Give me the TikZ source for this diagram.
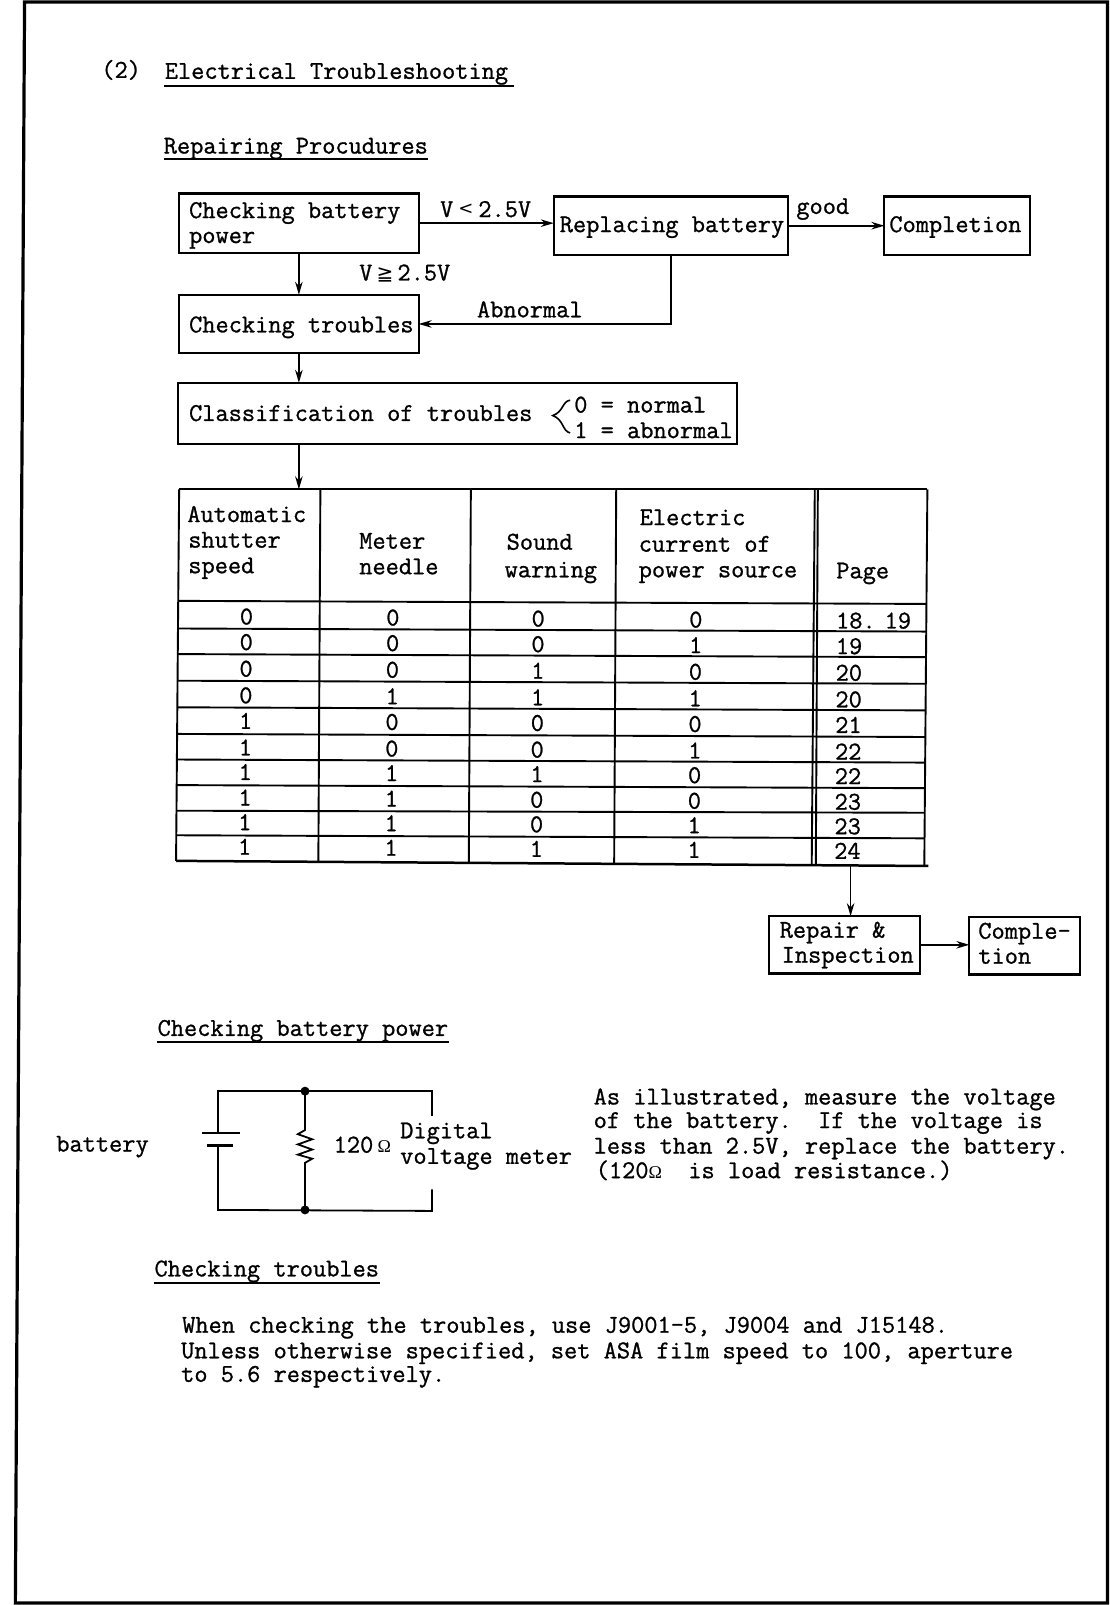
\documentclass[tikz,border=0pt]{standalone}
\usepackage{fontspec}
\setmonofont{Latin Modern Mono}[FakeBold=1.0]
\newfontfamily\symfont{DejaVu Sans}
\newfontfamily\serfont{Liberation Serif}
\usetikzlibrary{arrows.meta}
\newcommand{\ind}[1]{\hspace*{#1pt}}
\newcommand{\dn}[2]{\raisebox{#1pt}[0.7em][0.2em]{#2}}
\tikzset{
  x=1.024pt,y=-1.024pt,
  every node/.style={font=\ttfamily\fontsize{25.65}{25}\selectfont,inner sep=0pt,outer sep=0pt,text=black},
  txt/.style={anchor=base west},
  cell/.style={anchor=base},
  boxnode/.style={draw,line width=2.1pt,anchor=north west,align=flush left,minimum height=#1*1.024pt},
  conn/.style={line width=1.7pt,-{Stealth[length=13pt,width=7.5pt]}},
  wire/.style={line width=1.8pt},
  rule/.style={line width=2pt},
  tline/.style={line width=1.9pt},
}
\begin{document}
\begin{tikzpicture}
\useasboundingbox (0,0) rectangle (1084,1568);
\fill[white] (0,0) rectangle (1084,1568);
% page frame
\draw[line width=3.2pt] (15,1566) -- (24,2) -- (1082,2) -- (1082,1566) -- cycle;
% headings
\node[txt] (n2) at (99,76) {(2)};
\node[txt] (h1) at (161,77) {Electrical Troubleshooting};
\draw[rule,line width=2.6pt] (160,84) -- (502,84);
\node[txt] (h2) at (160,150) {Repairing Procudures};
\draw[rule] (160,155) -- (418,155);
% flow boxes
\node[boxnode=58,text width=239.6pt] (b1) at (175,189) {\ind{10}\dn{-1}{Checking battery}\\\ind{10}\dn{-1}{power}};
\node[boxnode=57,text width=234.5pt] (b2) at (541,192) {\ind{6}\dn{0}{Replacing battery}};
\node[boxnode=57,text width=145.4pt] (b3) at (864,192) {\ind{5}\dn{0}{Completion}};
\node[boxnode=57,text width=239.6pt] (b4) at (175,288) {\ind{10}\dn{-2}{Checking troubles}};
\node[boxnode=60,text width=559pt] (b5) at (174,374) {\ind{11}\dn{-1}{Classification of troubles}};
\node[txt] (n0) at (561,403) {0 = normal};
\node[txt] (n1) at (561,428) {1 = abnormal};
\draw[line width=1.6pt] (557,391) .. controls (549,392) and (551,402) .. (540,406) .. controls (551,410) and (549,421) .. (557,423);
\node[txt] (lv1) at (430,212) {V\makebox[25pt][c]{\raisebox{3pt}{\fontsize{18}{20}\selectfont\symfont<}}2.5V};
\node[txt] (lv2) at (351,274) {V\makebox[25pt][c]{\fontsize{20}{20}\selectfont\symfont≧}2.5V};
\node[txt] (lg) at (778,209) {good};
\node[txt] (lab) at (466,310) {Abnormal};
\draw[conn] (b1.east) -- (b1.east -| b2.west);
\draw[conn] (b2.east) -- (b3.west);
\draw[conn] (b1.south) -- (b4.north);
\draw[conn] (b2.south) |- (b4.east);
\draw[conn] (b4.south) -- (b4.south |- b5.north);
% table
\coordinate (ytop) at (0,478);
\coordinate (ttop) at (b4.south |- ytop);
\draw[conn] (b4.south |- b5.south) -- (ttop);
\draw[tline,line width=2.3pt] (175,478) -- (906,478);
\foreach \y/\yy in {587/590,614/617,639/642,665/668,691/694,717/720,742/745,767/770,792/794,816/819}
  \draw[tline] ({175-3*(\y-478)/365},\y) -- ({906-3*(\y-478)/365},\yy);
\draw[tline,line width=2.5pt] (172,841) -- (907,846);
\draw[tline] (175,478) -- (172,841);
\draw[tline] (313,478) -- (311,842);
\draw[tline] (460,478) -- (458,843);
\draw[tline] (602,478) -- (600,844);
\draw[tline] (796,478) -- (793,845);
\draw[tline] (799,478) -- (797,845);
\draw[tline] (906,478) -- (903,846);
% header
\node[txt] (t1) at (183,510) {Automatic};
\node[txt] (t2) at (184,535) {shutter};
\node[txt] (t3) at (184,560) {speed};
\node[txt] (t4) at (351,536) {Meter};
\node[txt] (t5) at (351,561) {needle};
\node[txt] (t6) at (495,537) {Sound};
\node[txt] (t7) at (493,564) {warning};
\node[txt] (t8) at (625,513) {Electric};
\node[txt] (t9) at (624,539) {current of};
\node[txt] (t10) at (624,564) {power source};
\node[txt] (t11) at (817,565) {Page};
% rows
\foreach \y/\a/\b/\c/\d/\p [count=\r] in {
 610/0/0/0/0/18.\hspace{9pt}19, 635/0/0/0/1/19, 661/0/0/1/0/20, 687/0/1/1/1/20, 712/1/0/0/0/21,
 738/1/0/0/1/22, 762/1/1/1/0/22, 787/1/1/0/0/23, 811/1/1/0/1/23, 835/1/1/1/1/24}{
  \node[cell] (ra\r) at ({241-0.2*\r},\y) {\a};
  \node[cell] (rb\r) at ({384-0.2*\r},\y+1) {\b};
  \node[cell] (rc\r) at ({526-0.2*\r},\y+2) {\c};
  \node[cell] (rd\r) at ({680-0.2*\r},\y+3) {\d};
  \node[txt] (rp\r) at ({817-0.2*\r},\y+4) {\p};
}
% after table
\coordinate (tbot) at (831,845);
\node[boxnode=56,text width=151.5pt] (rep) at (751,895) {\ind{11}\dn{1}{Repair \&}\\\ind{13}\dn{1}{Inspection}};
\node[boxnode=56,text width=110.6pt] (cmp) at (947,896) {\ind{9}\dn{1}{Comple-}\\\ind{9}\dn{1}{tion}};
\draw[conn] (tbot) -- (tbot |- rep.north);
\draw[conn] (rep.east) -- (rep.east -| cmp.west);
% battery section
\node[txt] (h3) at (154,1012) {Checking battery power};
\draw[rule] (153,1018) -- (439,1018);
\node[txt] (lb) at (55,1125) {battery};
\coordinate (TL) at (213,1066);
\coordinate (BL) at (213,1182);
\coordinate (TM) at (298,1066);
\coordinate (BM) at (298,1182);
\draw[wire] (213,1107) -- (TL) -- (422,1066) -- (422,1090);
\draw[wire] (213,1118) -- (BL) -- (422,1183) -- (422,1162);
\draw[wire] (197,1107) -- (234,1107);
\draw[line width=3.8pt] (202,1119) -- (228,1119);
\draw[wire] (TM) -- (298,1104) -- (291,1108) -- (305,1113) -- (291,1118) -- (305,1123) -- (291,1128) -- (305,1132) -- (298,1136) -- (BM);
\fill (TM) circle (4.5pt);
\fill (BM) circle (4.5pt);
\node[txt] (r1) at (326,1126) {120\,{\fontsize{18}{20}\selectfont\serfont Ω}};
\node[txt] (d1) at (391,1112) {Digital};
\node[txt] (d2) at (391,1137) {voltage meter};
\node[txt] (p1) at (580,1079) {As illustrated, measure the voltage};
\node[txt] (p2) at (580,1102) {of the battery.\ \ If the voltage is};
\node[txt] (p3) at (580,1127) {less than 2.5V, replace the battery.};
\node[txt] (p4) at (582,1151) {(120{\fontsize{18}{20}\selectfont\serfont Ω}\ \ is load resistance.)};
% troubles section
\node[txt] (h4) at (151,1247) {Checking troubles};
\draw[rule] (150,1253) -- (371,1253);
\node[txt] (q1) at (178,1302) {When checking the troubles, use J9001-5, J9004 and J15148.};
\node[txt] (q2) at (177,1327) {Unless otherwise specified, set ASA film speed to 100, aperture};
\node[txt] (q3) at (177,1350) {to 5.6 respectively.};
\end{tikzpicture}
\end{document}
